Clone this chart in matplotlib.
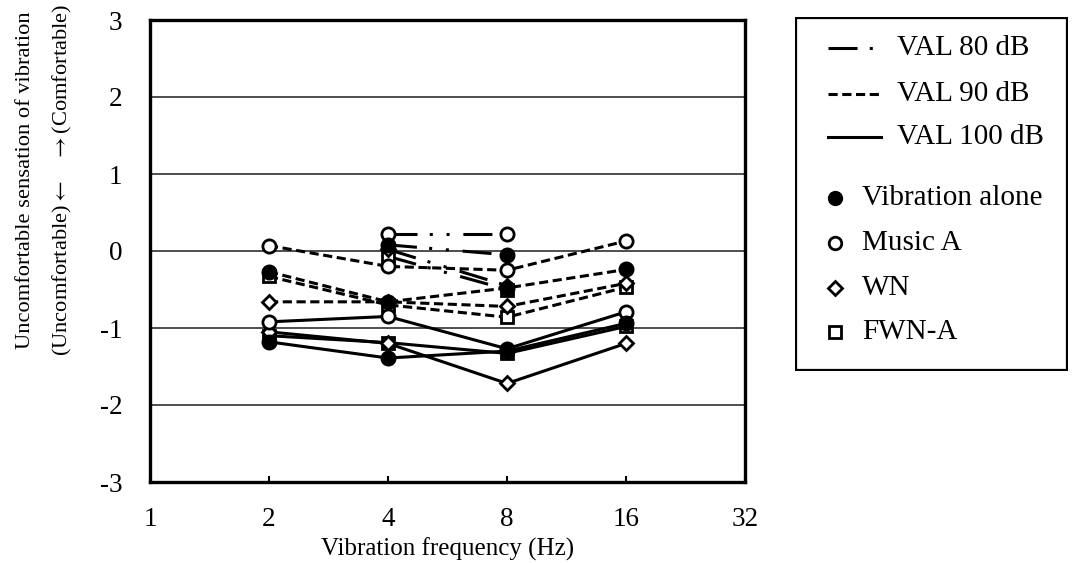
import numpy as np
import matplotlib
matplotlib.use('Agg')
import matplotlib.pyplot as plt
from matplotlib.patches import Rectangle

plt.rcParams['font.family'] = ['Liberation Serif', 'DejaVu Serif']
plt.rcParams['mathtext.fontset'] = 'stix'
plt.rcParams['font.size'] = 19.5

# vibration frequencies (Hz)
freq = [2, 4, 8, 16]
freq80 = [4, 8]

# VAL 80 dB (only 4 and 8 Hz)
va80 = [0.08, -0.05]
ma80 = [0.22, 0.22]
wn80 = [0.02, -0.45]
fwn80 = [-0.07, -0.50]

# VAL 90 dB
va90 = [-0.27, -0.66, -0.48, -0.24]
ma90 = [0.07, -0.20, -0.25, 0.13]
wn90 = [-0.66, -0.66, -0.72, -0.42]
fwn90 = [-0.33, -0.70, -0.86, -0.47]

# VAL 100 dB
va100 = [-1.18, -1.39, -1.30, -0.94]
ma100 = [-0.92, -0.85, -1.27, -0.79]
wn100 = [-1.05, -1.20, -1.72, -1.20]
fwn100 = [-1.10, -1.19, -1.33, -0.98]

conditions = ['Vibration alone', 'Music A', 'WN', 'FWN-A']
level_labels = ['VAL 80 dB', 'VAL 90 dB', 'VAL 100 dB']

ls80 = (0, (9.5, 4, 1, 4.5, 1, 4.5))
ls90 = (0, (3, 1.5))
ls100 = '-'

marker_style = {
    'Vibration alone': dict(marker='o', ms=10.5, mfc='black', mec='black', mew=1),
    'Music A': dict(marker='o', ms=9.5, mfc='white', mec='black', mew=2),
    'WN': dict(marker='D', ms=7, mfc='white', mec='black', mew=2),
    'FWN-A': dict(marker='s', ms=9, mfc='white', mec='black', mew=2),
}

fig = plt.figure(figsize=(10.72, 5.63), dpi=100)
ax = fig.add_axes([150/1072, 1 - 482/563, 595/1072, 462/563])

series = [
    (freq80, ls80, [va80, ma80, wn80, fwn80]),
    (freq, ls90, [va90, ma90, wn90, fwn90]),
    (freq, ls100, [va100, ma100, wn100, fwn100]),
]
order = [3, 2, 1, 0]
for xs, ls, vals in series:
    for i in order:
        name = conditions[i]
        ax.plot(xs, vals[i], color='black', lw=2.2, linestyle=ls,
                dash_capstyle='butt', zorder=3, **marker_style[name])

ax.set_xscale('log', base=2)
ax.set_xlim(1, 32)
ax.set_ylim(-3, 3)
ax.set_xticks([1, 2, 4, 8, 16, 32])
ax.set_xticklabels(['1', '2', '4', '8', '16', '32'])
ax.xaxis.set_minor_locator(matplotlib.ticker.NullLocator())
ax.set_yticks([-3, -2, -1, 0, 1, 2, 3])
ax.set_yticklabels(['-3', '-2', '-1', '0', '1', '2', '3'])
ax.tick_params(axis='x', direction='in', length=4, width=1.5, pad=18)
ax.tick_params(axis='y', direction='in', length=0, pad=20)
for lvl in [-2, -1, 0, 1, 2]:
    ax.axhline(lvl, color='#404040', lw=1.3, zorder=1)
for sp in ax.spines.values():
    sp.set_linewidth(2.4)
ax.set_xlabel('Vibration frequency (Hz)', fontsize=18, labelpad=4)

fig.text(45/1072, 1 - 180/563,
         'Uncomfortable sensation of vibration\n'
         '(Uncomfortable)$\\leftarrow$   $\\rightarrow$(Comfortable)',
         rotation=90, ha='center', va='center', multialignment='center',
         linespacing=1.95, fontsize=16.2)

# legend drawn in its own box
lax = fig.add_axes([795/1072, 1 - 371/563, 273/1072, 354/563])
lax.set_xlim(795, 1068)
lax.set_ylim(371, 17)
lax.axis('off')
lax.add_patch(Rectangle((796, 18), 271, 352, fill=False, lw=1.6, ec='black'))
row_y = [48, 94, 137]
for y, ls, lab in zip(row_y, [ls80, ls90, ls100], level_labels):
    lax.plot([828, 881], [y, y], color='black', lw=2.2, linestyle=ls,
             dash_capstyle='butt')
    lax.text(897, y, lab, va='center', ha='left', fontsize=21)
mark_y = [198, 243, 288, 332]
for y, name in zip(mark_y, conditions):
    st = dict(marker_style[name])
    st['ms'] = st['ms'] * 0.95
    lax.plot([835], [y], color='black', linestyle='none', **st)
    lax.text(862, y, name, va='center', ha='left', fontsize=21)

fig.savefig('out.png', dpi=100)
